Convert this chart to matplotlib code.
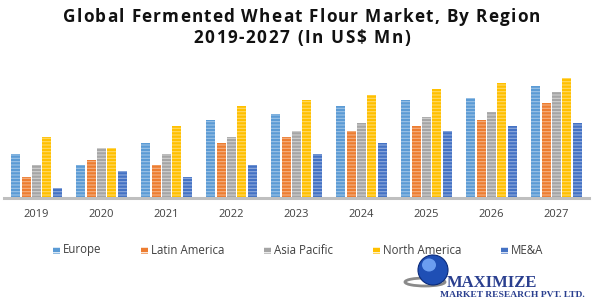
import matplotlib.pyplot as plt
import matplotlib.patches as patches
import numpy as np

years = ['2019', '2020', '2021', '2022', '2023', '2024', '2025', '2026', '2027']
regions = ['Europe', 'Latin America', 'Asia Pacific', 'North America', 'ME&A']
europe = [13.1, 9.8, 16.4, 23.3, 25.1, 27.5, 29.3, 29.9, 33.5]
latin_america = [6.2, 11.4, 9.8, 16.4, 18.2, 20.0, 21.5, 23.3, 28.4]
asia_pacific = [9.8, 14.9, 13.1, 18.2, 20.0, 22.4, 24.2, 25.7, 31.7]
north_america = [18.2, 14.9, 21.5, 27.5, 29.3, 30.8, 32.6, 34.4, 35.9]
mea = [3.0, 8.0, 6.2, 9.8, 13.1, 16.4, 20.0, 21.5, 22.4]

series = [europe, latin_america, asia_pacific, north_america, mea]
colors = ['#5B9BD5', '#ED7D31', '#A5A5A5', '#FFC000', '#4472C4']
stripe_colors = ['#9DC3E6', '#F4B183', '#D0D0D0', '#FFD966', '#8FAADC']

W, H = 602, 303
plt.rcParams['hatch.linewidth'] = 0.8

fig = plt.figure(figsize=(W / 100, H / 100), dpi=100)
ax = fig.add_axes([4 / W, 105 / H, 585 / W, 128 / H])

x = np.arange(len(years))
width = 0.14
step = 0.16
for i, (vals, c, sc) in enumerate(zip(series, colors, stripe_colors)):
    ax.bar(x + (i - 2) * step, vals, width, color=c, edgecolor=sc,
           linewidth=0, hatch='-----', label=regions[i], zorder=2)

ax.set_xlim(-0.5, 8.5)
ax.set_ylim(0, 38.4)
for s in ['top', 'right', 'left']:
    ax.spines[s].set_visible(False)
ax.spines['bottom'].set_color('#BFBFBF')
ax.spines['bottom'].set_linewidth(2.2)
ax.set_yticks([])
ax.set_xticks(x)
ax.set_xticklabels(years, fontsize=8, color='#404040', family='Open Sans')
ax.tick_params(axis='x', length=0, pad=8)

renderer = fig.canvas.get_renderer()


def spaced_text(s, x0, x1, y, **kw):
    # lay out characters one by one so the line fills x0..x1 (pixels)
    items = [fig.text(0, 0, ch if ch != ' ' else 'n', **kw) for ch in s]
    widths = [t.get_window_extent(renderer).width for t in items]
    for t, ch in zip(items, s):
        if ch == ' ':
            t.set_text('')
    spaces = [w * 0.4 if ch == ' ' else w for w, ch in zip(widths, s)]
    extra = (x1 - x0 - sum(spaces)) / (len(s) - 1)
    cx = x0
    for t, w in zip(items, spaces):
        t.set_position((cx / W, 1 - y / H))
        t.set_ha('left')
        t.set_va('center')
        cx += w + extra


title_kw = dict(fontsize=12.3, fontweight='bold', family='Open Sans', color='#111111')
spaced_text('Global Fermented Wheat Flour Market, By Region', 63, 540, 17, **title_kw)
spaced_text('2019-2027 (In US$ Mn)', 193, 410, 38, **title_kw)

# legend drawn manually to match positions
leg_x = [53, 141, 264, 373, 501]
leg_y = 1 - 250 / H
for lx, name, c in zip(leg_x, regions, colors):
    fig.patches.append(patches.Rectangle((lx / W, leg_y - 3.5 / H), 7 / W, 7 / H,
                                         transform=fig.transFigure, facecolor=c,
                                         edgecolor='white', linewidth=0, hatch='---'))
    fig.text((lx + 10) / W, leg_y, name, ha='left', va='center', fontsize=8.3,
             family='Open Sans', color='#404040')

# logo
fig.patches.append(patches.Ellipse((425 / W, 1 - 282 / H), 40 / W, 8 / H,
                                   transform=fig.transFigure, facecolor='none',
                                   edgecolor='#8a8a8a', linewidth=2))
fig.patches.append(patches.Ellipse((433 / W, 1 - 270 / H), 30 / W, 30 / H,
                                   transform=fig.transFigure, facecolor='#1f4fb5',
                                   edgecolor='#0a2a7a', linewidth=0.8))
fig.patches.append(patches.Ellipse((429 / W, 1 - 265 / H), 14 / W, 13 / H,
                                   transform=fig.transFigure, facecolor='#7fb2ff',
                                   edgecolor='none', alpha=0.8))
fig.text(447 / W, 1 - 283 / H, 'MAXIMIZE', ha='left', va='center',
         fontsize=12, family='Liberation Serif', fontweight='bold', color='#2a3f8f')
fig.text(440 / W, 1 - 295 / H, 'MARKET RESEARCH PVT. LTD.', ha='left',
         va='center', fontsize=6.8, family='Liberation Serif', fontweight='bold',
         color='#2a3f8f')

plt.savefig('out.png', dpi=100)
